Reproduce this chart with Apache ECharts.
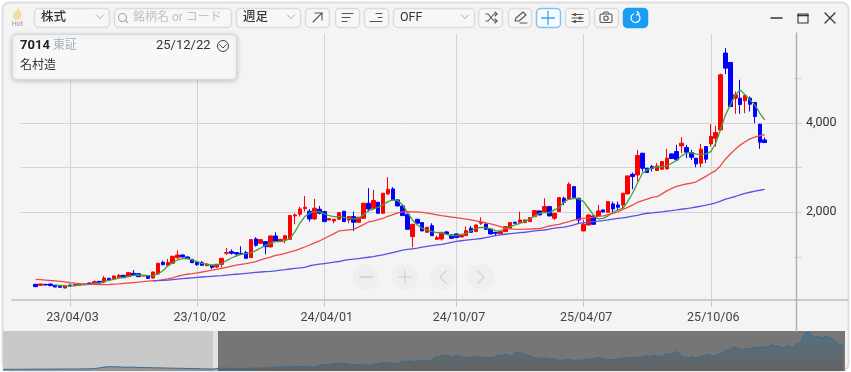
<!DOCTYPE html>
<html><head><meta charset="utf-8">
<script src="https://cdn.jsdelivr.net/npm/echarts@6/dist/echarts.min.js"></script>
<style>html,body{margin:0;padding:0;background:#fff}#c{width:851px;height:372px}</style>
</head><body><div id="c"></div>
<script>
const dates=['23/02/13','23/02/20','23/02/27','23/03/06','23/03/13','23/03/20','23/03/27','23/04/03','23/04/10','23/04/17','23/04/24','23/05/01','23/05/08','23/05/15','23/05/22','23/05/29','23/06/05','23/06/12','23/06/19','23/06/26','23/07/03','23/07/10','23/07/17','23/07/24','23/07/31','23/08/07','23/08/14','23/08/21','23/08/28','23/09/04','23/09/11','23/09/18','23/09/25','23/10/02','23/10/09','23/10/16','23/10/23','23/10/30','23/11/06','23/11/13','23/11/20','23/11/27','23/12/04','23/12/11','23/12/18','23/12/25','24/01/01','24/01/08','24/01/15','24/01/22','24/01/29','24/02/05','24/02/12','24/02/19','24/02/26','24/03/04','24/03/11','24/03/18','24/03/25','24/04/01','24/04/08','24/04/15','24/04/22','24/04/29','24/05/06','24/05/13','24/05/20','24/05/27','24/06/03','24/06/10','24/06/17','24/06/24','24/07/01','24/07/08','24/07/15','24/07/22','24/07/29','24/08/05','24/08/12','24/08/19','24/08/26','24/09/02','24/09/09','24/09/16','24/09/23','24/09/30','24/10/07','24/10/14','24/10/21','24/10/28','24/11/04','24/11/11','24/11/18','24/11/25','24/12/02','24/12/09','24/12/16','24/12/23','24/12/30','25/01/06','25/01/13','25/01/20','25/01/27','25/02/03','25/02/10','25/02/17','25/02/24','25/03/03','25/03/10','25/03/17','25/03/24','25/03/31','25/04/07','25/04/14','25/04/21','25/04/28','25/05/05','25/05/12','25/05/19','25/05/26','25/06/02','25/06/09','25/06/16','25/06/23','25/06/30','25/07/07','25/07/14','25/07/21','25/07/28','25/08/04','25/08/11','25/08/18','25/08/25','25/09/01','25/09/08','25/09/15','25/09/22','25/09/29','25/10/06','25/10/13','25/10/20','25/10/27','25/11/03','25/11/10','25/11/17','25/11/24','25/12/01','25/12/08','25/12/15','25/12/22'];
const tickLabels=['23/04/03','23/10/02','24/04/01','24/10/07','25/04/07','25/10/06'];
const priceTicks=[1000,2000,3000,4000,5000];
const priceLabels=[2000,4000];
// open, close, low, high
const ohlc=[[384,332,325,392],[362,392,355,398],[384,369,362,392],[392,354,347,399],[362,324,317,370],[339,317,310,347],[302,347,295,354],[369,347,340,377],[354,384,347,392],[369,392,362,399],[377,392,370,400],[414,392,385,422],[406,444,392,474],[451,414,407,459],[436,526,406,571],[519,481,474,527],[511,571,504,579],[541,586,534,616],[586,533,526,594],[556,646,549,654],[631,586,571,705],[623,556,549,631],[571,586,564,594],[578,518,511,586],[526,660,519,668],[616,855,609,863],[877,825,810,914],[810,870,803,952],[855,1012,848,1020],[982,1041,944,1139],[1041,997,990,1049],[997,959,952,1005],[944,870,863,952],[877,825,795,885],[870,810,803,907],[802,840,795,848],[802,765,728,810],[772,832,750,840],[832,967,758,975],[1079,1094,1041,1198],[1116,1079,1049,1168],[1094,1064,1004,1102],[1079,1056,1040,1236],[1094,967,960,1131],[982,1385,975,1393],[1400,1258,1228,1437],[1303,1385,1296,1393],[1340,1228,1056,1348],[1221,1467,1214,1475],[1467,1355,1348,1549],
[1347,1392,1340,1400],[1392,1474,1303,1482],[1392,1923,1385,1931],[1915,1938,1728,1975],[1952,2072,1900,2124],[2080,2110,2012,2363],[2020,1848,1788,2065],[1848,2087,1825,2296],[2065,1975,1950,2139],[2012,1788,1780,2020],[1825,1855,1818,1863],[1803,1840,1751,1848],[1840,1990,1833,1998],[2020,1788,1780,2028],[1825,1900,1751,1908],[1900,1773,1579,2012],[1773,1885,1766,1893],[1863,2199,1856,2207],[2199,2072,2012,2535],[2087,2259,2080,2498],[2221,1975,1968,2229],[1975,2423,1968,2431],[2408,2513,2386,2782],[2520,2274,2267,2558],[2274,2139,2132,2282],[2139,1923,1916,2147],[1953,1616,1609,1961],[1452,1728,1213,1736],[1840,1751,1744,1848],[1766,1579,1572,1774],[1549,1661,1542,1669],[1698,1474,1467,1751],[1392,1430,1377,1474],[1400,1527,1362,1535],[1557,1512,1489,1579],[1489,1415,1408,1497],[1512,1430,1423,1520],[1445,1482,1438,1490],[1474,1586,1467,1676],[1639,1549,1542,1691],[1564,1713,1557,1721],[1751,1781,1713,1885],[1736,1616,1609,1744],[1624,1512,1505,1632],[1549,1527,1489,1557],[1519,1564,1512,1572],[1564,1676,1557,1684],[1639,1766,1632,1774],[1773,1751,1744,1781],[1773,1825,1766,2012],[1766,1825,1759,1833],[1788,1878,1781,1886],[1900,2035,1893,2043],[2027,1938,1931,2035],[2012,2124,2005,2311],[2124,1915,1908,2132],[1863,1975,1825,1983],[2012,2326,2005,2334],
[2311,2221,2161,2348],[2296,2624,2289,2669],[2572,2326,2319,2580],[2311,1825,1750,2319],[1579,1728,1572,1825],[1713,1937,1706,1945],[1915,1728,1721,1923],[1915,2027,1908,2161],[2049,2004,1997,2057],[1997,2236,1990,2244],[2184,2072,1989,2236],[2161,2109,2027,2236],[2161,2423,2072,2431],[2408,2811,2401,2819],[2848,2796,2512,2886],[2833,3267,2684,3394],[3319,2983,2908,3327],[2983,2886,2879,2991],[3020,2975,2908,3057],[2931,3035,2924,3095],[2960,3132,2953,3140],[2968,3207,2961,3416],[3304,3200,3193,3312],[3356,3170,3163,3506],[3483,3543,3319,3678],[3446,3342,3207,3506],[3334,3229,3170,3394],[3207,3080,3005,3215],[3095,3409,3005,3528],[3469,3185,3095,3477],[3527,3692,3468,3968],[3654,3781,3468,3931],[3841,5074,3834,5100],[5559,5223,5089,5671],[5350,4364,4357,5358],[4551,4625,4200,4700],[4551,4409,4200,4962],[4491,4611,4215,4619],[4551,4416,4252,4588],[4454,4140,3990,4462],[3968,3565,3415,3976],[3617,3557,3550,3669]];
const ma5=[null,null,null,null,369,362,354,347,354,369,377,384,399,414,444,474,496,526,541,563,586,593,586,578,586,616,690,795,870,930,959,959,930,892,855,832,817,817,855,914,974,1019,1056,1071,1094,1139,1198,1258,1303,1340,1340,1362,1415,1564,1751,1900,1975,2012,2012,1960,1923,1900,1900,1885,1863,1848,1863,1938,2035,2065,2109,2162,2236,2274,2259,2162,1990,1825,1713,1639,1601,1564,1542,1549,1504,1474,1474,1504,1527,1579,1639,1661,1654,1624,1586,1579,1639,1676,1713,1751,1788,1848,1915,1975,1990,1990,2050,2100,2236,2288,2311,2296,2236,2087,1937,1848,1862,1915,1997,2049,2087,2236,2423,2647,2871,2946,2983,3020,3020,3035,3095,3155,3259,3319,3334,3297,3289,3304,3355,3542,3856,4177,4401,4625,4737,4625,4513,4401,4215,4065];
const ma25=[496,488,480,470,462,450,438,420,410,402,395,390,384,378,376,380,388,396,405,414,424,434,445,455,465,475,490,505,530,565,590,610,625,642,660,680,700,720,740,765,790,812,830,848,868,895,930,965,995,1030,1049,1078,1108,1140,1176,1220,1265,1310,1355,1410,1465,1520,1579,1590,1603,1616,1665,1720,1780,1800,1830,1863,1905,1945,1985,2008,2012,2008,2004,1997,1980,1960,1940,1920,1905,1890,1875,1860,1845,1825,1805,1785,1760,1735,1710,1675,1640,1625,1620,1616,1618,1622,1628,1632,1660,1690,1710,1728,1760,1790,1822,1845,1860,1872,1890,1905,1915,1945,1975,2005,2060,2105,2155,2220,2260,2290,2330,2345,2410,2475,2530,2575,2605,2630,2650,2680,2740,2800,2870,2930,3040,3190,3300,3410,3500,3575,3640,3680,3715,3730];
const ma75=[null,null,null,null,null,null,null,null,null,null,null,null,null,null,null,null,null,null,null,null,null,null,null,null,460,465,472,480,490,500,510,520,530,540,548,556,564,572,580,590,600,610,620,630,640,650,660,668,676,685,700,712,727,740,752,765,800,820,835,850,865,880,895,922,935,948,960,975,990,1004,1025,1045,1070,1095,1120,1150,1165,1180,1195,1215,1235,1250,1265,1280,1300,1325,1345,1360,1375,1385,1395,1410,1430,1450,1475,1490,1505,1520,1530,1540,1550,1565,1580,1590,1600,1620,1640,1654,1665,1685,1715,1750,1762,1775,1790,1800,1812,1825,1845,1860,1870,1890,1910,1930,1955,1975,1982,1995,2008,2022,2035,2049,2065,2080,2095,2115,2135,2155,2180,2210,2245,2290,2320,2350,2385,2420,2445,2470,2490,2512];
const navHistory=[220,225,230,228,235,240,238,245,250,248,255,260,258,262,265,270,268,272,275,280,285,300,340,420,520,570,570,560,540,500,510,530,480,470,455,440,430,420,410,395,380,370,360,350,340,330,320,300,285,270,260];

const lead=3, trail=6, FONT='Roboto,"Noto Sans CJK JP",sans-serif';
const pad=a=>[...Array(lead).fill(null),...a,...Array(trail).fill(null)];
const cats=[...Array(lead).fill(''),...dates,...Array(trail).fill('')];
const candleData=[...Array(lead).fill(['-','-','-','-']),...ohlc,...Array(trail).fill(['-','-','-','-'])];
const navData=navHistory.concat(ohlc.map(d=>d[1]));

// ---- window chrome, toolbar and info card (all real text / vector shapes)
const G=[];
const box=(x,y,w,h,o={})=>G.push({type:'rect',z:o.z||5,silent:true,shape:{x:x+.5,y:y+.5,width:w,height:h,r:o.r==null?4:o.r},style:{fill:o.fill||'#f7f7f7',stroke:o.stroke||'#dcdcdc',lineWidth:o.lw||1.5,shadowBlur:o.blur||0,shadowColor:o.sc||'transparent',shadowOffsetY:o.sy||0}});
const txt=(x,y,t,o={})=>G.push({type:'text',z:o.z||6,silent:true,x,y,style:{text:t,font:(o.w||400)+' '+(o.s||12)+'px '+FONT,fill:o.c||'#333',verticalAlign:'middle',align:o.a||'left'}});
const line=(pts,o={})=>G.push({type:'polyline',z:o.z||6,silent:true,shape:{points:pts},style:{fill:null,stroke:o.c||'#555',lineWidth:o.lw||1.1,lineCap:'round',lineJoin:'round'}});
const circ=(cx,cy,r,o={})=>G.push({type:'circle',z:o.z||6,silent:true,shape:{cx,cy,r},style:{fill:o.fill||null,stroke:o.c||null,lineWidth:o.lw||1.2}});
const chev=(x,y,c='#aaa',z)=>line([[x-3.5,y-2],[x,y+1.5],[x+3.5,y-2]],{c,lw:1,z});

box(2,2,846,368,{fill:'#f4f4f4',stroke:'#dedede',r:7,z:-1,lw:2});
// hot
G.push({type:'polygon',z:6,silent:true,shape:{points:[[17.5,7],[21.5,13],[21.5,16],[19.5,19.5],[15,20],[12.5,16],[14.5,11],[16,13]]},style:{fill:'#f5d9a8'}});
txt(17.5,24.5,'Hot',{s:7,c:'#999',a:'center'});
// selects and buttons
box(34,8,75,19);txt(41,17.5,'株式',{s:12.5,w:500});chev(100,17);
box(114,8,117,19);circ(122.5,17.5,4,{c:'#9aa',lw:1.1});line([[125.5,20.5],[127.5,22.5]],{c:'#9aa',lw:1.1});txt(133,17.5,'銘柄名 or コード',{c:'#c2c2c2',s:12});
box(236,8,64,19);txt(243,17.5,'週足',{s:12.5,w:500});chev(291,17);
box(305,8,24,19);line([[313,22],[322,13]]);line([[315,13],[322,13],[322,20]]);
box(335,8,24,19);line([[342,13.5],[353,13.5]]);line([[342,17.5],[350,17.5]]);line([[342,21.5],[347,21.5]]);
box(364,8,24,19);line([[376,13.5],[382,13.5]]);line([[378,17.5],[382,17.5]]);line([[370,21.5],[382,21.5]]);
box(393,8,81,19);txt(400,17.5,'OFF',{s:12.5});chev(465,17);
box(478,8,24,19);line([[486,14],[488,14],[494,21],[497,21]]);line([[486,21],[488,21],[494,14],[497,14]]);line([[495,12],[497,14],[495,16]]);line([[495,19],[497,21],[495,23]]);
box(508,8,23,19);line([[515,21],[516,18],[523,12],[526,15],[519,21],[515,21]]);line([[520,23],[527,23]],{lw:1});
box(536,8,24,19,{stroke:'#7fc2f3',fill:'#f7fbfe'});line([[548,11.5],[548,24.5]],{c:'#3aa4ef',lw:1.3});line([[541.5,18],[554.5,18]],{c:'#3aa4ef',lw:1.3});
box(565,8,24,19);line([[572,14.5],[583,14.5]]);line([[572,18],[583,18]]);line([[572,21.5],[583,21.5]]);circ(575,14.5,1.5,{fill:'#555'});circ(580,18,1.5,{fill:'#555'});circ(575,21.5,1.5,{fill:'#555'});
box(594,8,24,19);G.push({type:'rect',z:6,silent:true,shape:{x:600,y:14,width:12,height:8.5,r:1.5},style:{fill:null,stroke:'#555',lineWidth:1.1}});circ(606,18.2,2.2,{c:'#555',lw:1.1});line([[603,14],[604,12],[608,12],[609,14]],{c:'#555',lw:1});
box(623,8,24,19,{fill:'#1a9df2',stroke:'#1a9df2'});G.push({type:'arc',z:6,silent:true,shape:{cx:635.5,cy:18,r:4.5,startAngle:-1.0,endAngle:4.4,clockwise:true},style:{fill:null,stroke:'#fff',lineWidth:1.2}});line([[637,11.5],[639,13.5],[636.5,15]],{c:'#fff',lw:1.1});
// window controls
line([[771,18],[782,18]],{c:'#333',lw:1.5});
G.push({type:'rect',z:6,silent:true,shape:{x:798,y:14,width:10,height:9},style:{fill:null,stroke:'#333',lineWidth:1.1}});line([[798,15.5],[808,15.5]],{c:'#333',lw:1.5});
line([[825,13],[835,23]],{c:'#333',lw:1.3});line([[835,13],[825,23]],{c:'#333',lw:1.3});
// info card
box(12,34,224,45,{fill:'#f8f8f8',stroke:'#d8d8d8',blur:5,sc:'rgba(0,0,0,.2)',sy:1,z:20,lw:1});
txt(20,45.5,'7014',{w:700,s:13,c:'#222',z:21});txt(53,45.5,'東証',{c:'#9fb0bc',s:12,z:21});txt(156,45.5,'25/12/22',{s:13,c:'#333',z:21});
circ(223,46,5.5,{c:'#444',lw:1,z:21});chev(223,46.5,'#444',21);
txt(20,65.5,'名村造',{s:12,c:'#333',z:21});
// axis frame
line([[12,300],[848,300]],{c:'#bdbdbd',lw:1.5,z:3});
line([[796.5,33],[796.5,331]],{c:'#b0b0b0',lw:1.5,z:3});
// navigator backdrop
G.push({type:'rect',z:0,silent:true,shape:{x:3,y:331,width:210,height:40},style:{fill:'#c9c9c9'}});
G.push({type:'rect',z:0,silent:true,shape:{x:213,y:331,width:5,height:40},style:{fill:'#e2e2e2'}});
G.push({type:'rect',z:0,silent:true,shape:{x:218,y:331,width:627,height:40},style:{fill:'#767676'}});
// pan / zoom controls
[366,405,443,481].forEach(x=>circ(x,277,13,{fill:'rgba(228,228,228,.28)',z:4}));
const ic='#d6d6d6';
line([[360,277],[372,277]],{c:ic,lw:2,z:5});
line([[399,277],[411,277]],{c:ic,lw:1.5,z:5});line([[405,271],[405,283]],{c:ic,lw:1.5,z:5});
line([[446,271],[440,277],[446,283]],{c:ic,lw:1.5,z:5});
line([[478,271],[484,277],[478,283]],{c:ic,lw:1.5,z:5});

const chart=echarts.init(document.getElementById('c'),null,{renderer:'canvas'});
const maLine=(name,data,color)=>({name,type:'line',data:pad(data),xAxisIndex:0,yAxisIndex:0,symbol:'none',smooth:false,connectNulls:false,z:3,lineStyle:{color,width:1.3},itemStyle:{color},animation:false});
chart.setOption({
 animation:false,backgroundColor:'#ffffff',
 graphic:{elements:G},
 grid:[{left:21,width:773,top:34,height:267.5},{left:3,width:840,top:332,height:39}],
 xAxis:[{type:'category',gridIndex:0,data:cats,boundaryGap:false,
   axisLine:{show:false},
   axisTick:{show:true,interval:(i,v)=>tickLabels.includes(v),length:5,lineStyle:{color:'#c4c4c4',width:1}},
   splitLine:{show:true,interval:(i,v)=>tickLabels.includes(v),lineStyle:{color:'#d4d4d4',width:1}},
   axisLabel:{interval:(i,v)=>tickLabels.includes(v),color:'#444',fontFamily:FONT,fontSize:12.5,margin:10,padding:[0,0,0,5],hideOverlap:false}},
  {type:'category',gridIndex:1,boundaryGap:false,data:navData.map((_,i)=>i),show:false}],
 yAxis:[{type:'value',gridIndex:0,position:'right',min:0,max:5987,interval:1000,
   axisLine:{show:false},
   axisTick:{show:true,customValues:priceTicks,length:8,lineStyle:{color:'#d4d4d4'}},
   splitLine:{show:true,showMinLine:false,showMaxLine:false,lineStyle:{color:'#d4d4d4',width:1}},
   axisLabel:{show:true,margin:12,color:'#333',fontFamily:FONT,fontSize:12.5,showMaxLabel:false,
     formatter:v=>priceLabels.includes(v)?v.toLocaleString('en-US'):''}},
  {type:'value',gridIndex:1,min:0,max:5223,show:false}],
 series:[
  {name:'週足',type:'candlestick',data:candleData,xAxisIndex:0,yAxisIndex:0,clip:false,barWidth:4,z:2,animation:false,
   itemStyle:{color:'#ff0000',color0:'#0000ff',borderColor:'#ff0000',borderColor0:'#0000ff',borderWidth:1}},
  maLine('MA5',ma5,'#3fa13a'),maLine('MA25',ma25,'#f04848'),maLine('MA75',ma75,'#5a4fe6'),
  {name:'nav',type:'line',data:navData,xAxisIndex:1,yAxisIndex:1,symbol:'none',z:2,silent:true,animation:false,
   lineStyle:{color:'#3e6a8a',width:1},
   areaStyle:{color:new echarts.graphic.LinearGradient(0,0,0,1,[{offset:0,color:'rgba(50,110,150,.7)'},{offset:1,color:'rgba(70,70,70,.55)'}])}}
 ]
});
</script></body></html>
